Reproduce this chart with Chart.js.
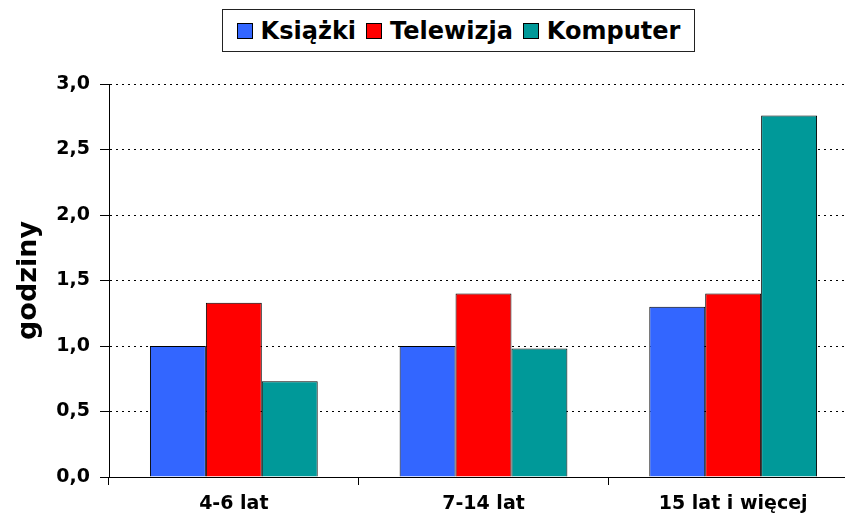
<!DOCTYPE html>
<html><head><meta charset="utf-8">
<script src="https://cdn.jsdelivr.net/npm/chart.js@4"></script>
<style>
html,body{margin:0;padding:0;background:#fff;overflow:hidden;width:845px;height:521px}
#wrap{position:absolute;left:0;top:0;width:870px;height:521px}
#legend{position:absolute;left:222px;top:9px;width:473px;height:43px;border:1.5px solid #222;box-sizing:border-box;display:flex;align-items:center;justify-content:center;font-family:"DejaVu Sans";font-weight:bold;font-size:24px;color:#000;background:#fff;z-index:2}
.item{display:flex;align-items:center;margin:0 5px}
.sw{width:14px;height:14px;border:1px solid #000;margin-right:8px}
</style></head>
<body>
<div id="wrap"><canvas id="c"></canvas></div>
<div id="legend"></div>
<script>
const categories = ['4-6 lat', '7-14 lat', '15 lat i więcej'];
const seriesNames = ['Książki', 'Telewizja', 'Komputer'];
const ksiazki = [1.0, 1.0, 1.3];
const telewizja = [1.33, 1.40, 1.40];
const komputer = [0.73, 0.98, 2.76];
const yTickLabels = ['0,0', '0,5', '1,0', '1,5', '2,0', '2,5', '3,0'];
const yTitle = 'godziny';
const colors = ['#3366FF', '#FF0000', '#009999'];
const values = [ksiazki, telewizja, komputer];

const FONT = '"DejaVu Sans", Verdana, sans-serif';

const leg = document.getElementById('legend');
seriesNames.forEach((n, i) => {
  const it = document.createElement('div'); it.className = 'item';
  const sw = document.createElement('div'); sw.className = 'sw'; sw.style.background = colors[i];
  const t = document.createElement('span'); t.textContent = n;
  it.appendChild(sw); it.appendChild(t); leg.appendChild(it);
});

new Chart(document.getElementById('c'), {
  type: 'bar',
  data: {
    labels: categories,
    datasets: seriesNames.map((n, i) => ({
      label: n,
      data: values[i],
      backgroundColor: colors[i],
      borderColor: '#000',
      borderWidth: 1,
      barPercentage: 1,
      categoryPercentage: 0.672
    }))
  },
  options: {
    responsive: true,
    maintainAspectRatio: false,
    animation: false,
    layout: { padding: { top: 84, right: 12, left: 0, bottom: 0 } },
    plugins: { legend: { display: false }, tooltip: { enabled: false } },
    scales: {
      x: {
        offset: true,
        grid: { display: true, drawOnChartArea: false, drawTicks: true, tickLength: 8, color: '#000', tickColor: '#000', offset: true },
        border: { display: true, color: '#000', width: 1 },
        ticks: { color: '#000', font: { family: FONT, size: 19, weight: 'bold' }, padding: 8, maxRotation: 0 },
        afterFit: s => { s.height = 44; }
      },
      y: {
        min: 0, max: 3,
        ticks: { stepSize: 0.5, color: '#000', padding: 10,
          font: { family: FONT, size: 19, weight: 'bold' },
          callback: (v, i) => yTickLabels[i] },
        grid: { color: '#000', lineWidth: 1, tickLength: 9, tickColor: '#000', tickBorderDash: [] },
        border: { display: true, color: '#000', width: 1, dash: [2, 4] },
        title: { display: true, text: yTitle, color: '#000', font: { family: FONT, size: 27, weight: 'bold' }, padding: { top: 13, bottom: 0 } },
        afterFit: s => { s.width = 109; }
      }
    }
  }
});
</script>
</body></html>
